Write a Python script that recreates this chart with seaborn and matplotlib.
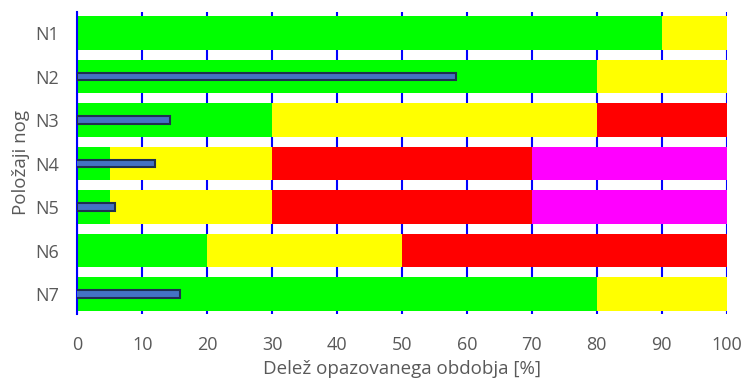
import numpy as np
import pandas as pd
import matplotlib.pyplot as plt
import seaborn as sns

# Data
positions = ['N1', 'N2', 'N3', 'N4', 'N5', 'N6', 'N7']
green = [90, 80, 30, 5, 5, 20, 80]
yellow = [10, 20, 50, 25, 25, 30, 20]
red = [0, 0, 20, 40, 40, 50, 0]
magenta = [0, 0, 0, 30, 30, 0, 0]
blue_start = [0, 0, 0, -0.3, 0, 0, -0.3]
blue_end = [0, 58.3, 14.3, 12.0, 5.8, 0, 15.8]

df = pd.DataFrame({'pos': positions, 'green': green, 'yellow': yellow,
                   'red': red, 'magenta': magenta})
df['c1'] = df['green']
df['c2'] = df['c1'] + df['yellow']
df['c3'] = df['c2'] + df['red']
df['c4'] = df['c3'] + df['magenta']

sns.set_style('white')
plt.rcParams['font.family'] = ['Open Sans', 'DejaVu Sans']

fig, ax = plt.subplots(figsize=(7.43, 3.78), dpi=100)
fig.subplots_adjust(left=0.104, right=0.978, top=0.968, bottom=0.17)

# stacked bars: draw cumulative totals from the back
for col, color in [('c4', '#FF00FF'), ('c3', '#FF0000'), ('c2', '#FFFF00'), ('c1', '#00FF00')]:
    sns.barplot(data=df, x=col, y='pos', color=color, width=0.77,
                saturation=1, linewidth=0, ax=ax)

# thin blue bars
ypos = np.arange(len(positions))
widths = [e - s for s, e in zip(blue_start, blue_end)]
mask = [w > 0 for w in widths]
ax.barh(ypos[mask], np.array(widths)[mask], left=np.array(blue_start)[mask],
        height=0.17, color='#4472C4', edgecolor='#1F3050', linewidth=1.5, zorder=3)

ax.set_xlim(0, 100)
ax.set_ylim(6.45, -0.48)
ax.set_xticks(range(0, 101, 10))
ax.set_axisbelow(True)
ax.grid(axis='x', color='#0000FF', linewidth=1.5)
ax.grid(axis='y', visible=False)
for s in ['top', 'right', 'bottom']:
    ax.spines[s].set_visible(False)
ax.spines['left'].set_color('#0000FF')
ax.spines['left'].set_linewidth(1.5)

ax.tick_params(axis='both', length=0, labelsize=13, labelcolor='#595959')
ax.tick_params(axis='y', pad=13)
ax.tick_params(axis='x', pad=16)
ax.set_xlabel('Delež opazovanega obdobja [%]', fontsize=13.5, color='#595959', labelpad=4)
ax.set_ylabel('Položaji nog', fontsize=13.5, color='#595959', labelpad=4)

plt.savefig('out.png', dpi=100)
